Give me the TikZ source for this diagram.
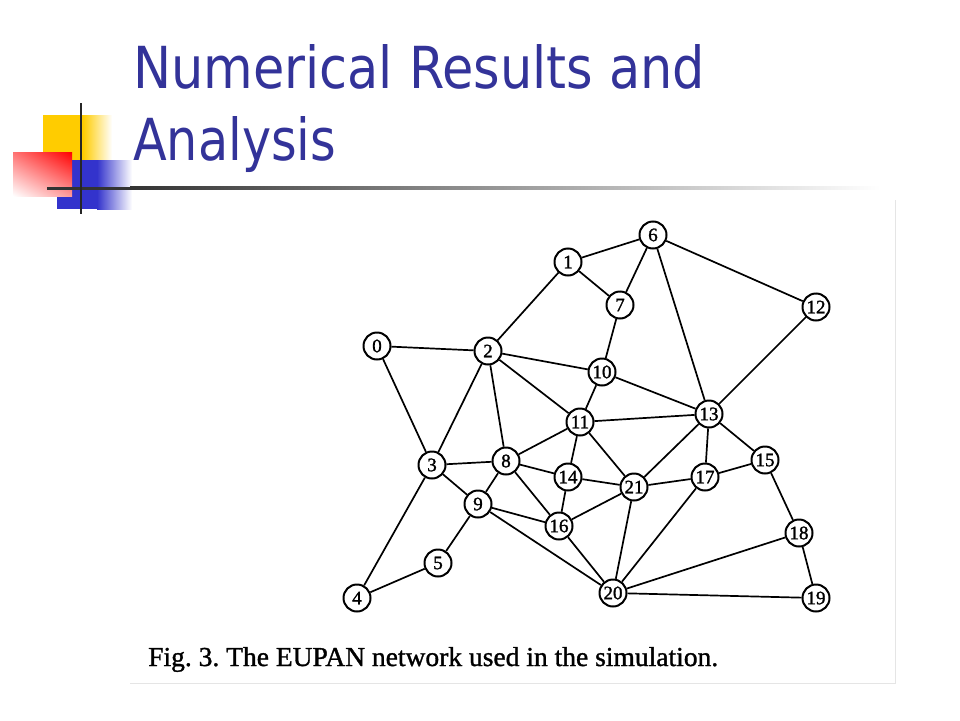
\documentclass[tikz,border=0pt]{standalone}
\usepackage{fontspec}
\usetikzlibrary{shadings}
\setmainfont{Liberation Serif}
\newfontfamily\titlefont{DejaVu Sans}
\newfontfamily\capfont[FakeBold=1.2]{Liberation Serif}
\newfontfamily\numfont[FakeBold=1.5]{Liberation Serif}
\definecolor{titleblue}{RGB}{51,51,153}
\definecolor{decoyellow}{RGB}{255,204,0}
\definecolor{decoblue}{RGB}{51,51,204}
\definecolor{decored}{RGB}{255,0,0}
\frenchspacing
\begin{document}
\begin{tikzpicture}[x=1pt,y=-1pt,
  netnode/.style={circle,draw,line width=2pt,minimum size=27pt,inner sep=0pt,fill=white,font=\numfont\fontsize{19}{19}\selectfont},
  link/.style={line width=1.7pt},
  titletext/.style={anchor=base west,inner sep=0pt,text=titleblue,font=\titlefont\fontsize{60}{60}\selectfont}]
\useasboundingbox (0,0) rectangle (960,720);
\fill[white] (0,0) rectangle (960,720);
% decoration
\fill[decoyellow] (43,115) rectangle (83,160);
\shade[left color=decoyellow,right color=white] (83,115) rectangle (112,160);
\fill[decoblue] (57,160) rectangle (97,209);
\shade[left color=decoblue,right color=white] (97,160) rectangle (132,209);
\shade[upper left=decored!55!white,upper right=decored,lower left=white,lower right=decored!40!white] (13,152) rectangle (72,196);
\fill[black!80] (47,186.5) rectangle (130,189.5);
\shade[left color=black!80,right color=white] (130,186.5) rectangle (880,189.5);
\draw[line width=2.5pt,black!85] (81,103) -- (81,214);
% title
\node[titletext] (t1) at (133,88) {\resizebox{572pt}{44pt}{Numerical Results and}};
\node[titletext] (t2) at (133,160) {\resizebox{203pt}{44pt}{Analysis}};
% panel edge
\draw[black!10,line width=1pt] (895,200) -- (895,683) -- (130,683);
% nodes
\node[netnode] (n0) at (377,346) {0};
\node[netnode] (n1) at (568,262) {1};
\node[netnode] (n2) at (488,351) {2};
\node[netnode] (n3) at (432,465) {3};
\node[netnode] (n4) at (357,598) {4};
\node[netnode] (n5) at (438,563) {5};
\node[netnode] (n6) at (653,235) {6};
\node[netnode] (n7) at (620,305) {7};
\node[netnode] (n8) at (506,461) {8};
\node[netnode] (n9) at (478,504) {9};
\node[netnode] (n10) at (602,372) {10};
\node[netnode] (n11) at (580,422) {11};
\node[netnode] (n12) at (816,307) {12};
\node[netnode] (n13) at (709,414) {13};
\node[netnode] (n14) at (568,477) {14};
\node[netnode] (n15) at (765,460) {15};
\node[netnode] (n16) at (559,526) {16};
\node[netnode] (n17) at (705,477) {17};
\node[netnode] (n18) at (799,533) {18};
\node[netnode] (n19) at (816,598) {19};
\node[netnode] (n20) at (613,593) {20};
\node[netnode] (n21) at (634,487) {21};
% links
\foreach \a/\b in {0/2,0/3,1/6,1/7,1/2,6/7,6/13,6/12,7/10,2/10,2/11,2/3,2/8,10/11,10/13,12/13,11/13,11/8,11/14,11/21,3/8,3/9,3/4,8/14,8/9,8/16,14/21,14/16,9/16,9/20,9/5,5/4,16/21,16/20,21/20,21/13,21/17,13/17,13/15,17/15,17/20,15/18,18/20,18/19,20/19}
  \draw[link] (n\a) -- (n\b);
% caption
\node[anchor=base west,inner sep=0pt,font=\capfont\fontsize{26}{26}\selectfont] (cap) at (148,666) {\resizebox{570pt}{19pt}{Fig. 3. The EUPAN network used in the simulation.}};
\end{tikzpicture}
\end{document}
